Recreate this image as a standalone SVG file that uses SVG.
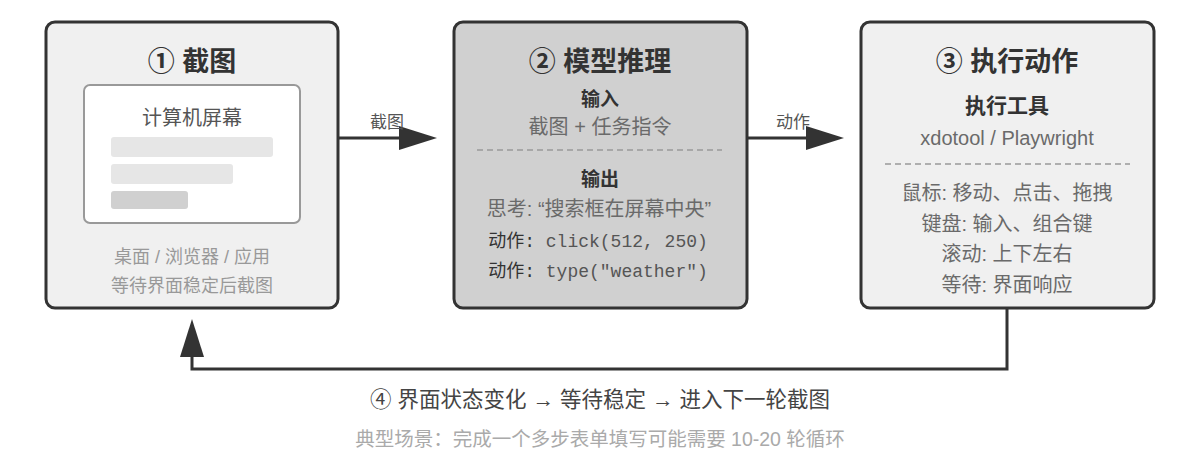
<svg xmlns="http://www.w3.org/2000/svg" width="1200" height="462" viewBox="0 0 1200 462">
<style>
text{font-family:"Liberation Sans","Noto Sans CJK SC",sans-serif;text-anchor:middle}
.box{stroke:#333;stroke-width:3}
.title{font-size:27px;font-weight:bold;fill:#333}
.sub{font-size:19px;font-weight:bold;fill:#333}
.body{font-size:20px;fill:#6a6a6a}
.muted{font-size:18px;fill:#999}
.code{font-family:"Liberation Mono","Noto Sans CJK SC",monospace;font-size:18px;fill:#555}
.dash{stroke:#999;stroke-width:1.5;stroke-dasharray:6 4}
.conn{stroke:#333;stroke-width:3;fill:none}
.lbl{font-size:17px;fill:#555}
</style>
<defs>
<marker id="ah" viewBox="0 0 38 24" refX="0" refY="12" markerWidth="38" markerHeight="24" markerUnits="userSpaceOnUse" orient="auto">
<path d="M0,0 L38,12 L0,24 Z" fill="#333"/>
</marker>
</defs>
<g id="node-screenshot">
<rect class="box" x="46" y="22" width="292" height="286" rx="9" fill="#f0f0f0"/>
<text class="title" x="192" y="71">① 截图</text>
<rect x="84" y="85" width="216" height="138" rx="6" fill="#fff" stroke="#999" stroke-width="2"/>
<text x="192" y="125" style="font-size:20px;fill:#555">计算机屏幕</text>
<rect x="111" y="137" width="162" height="20" rx="3" fill="#e6e6e6"/>
<rect x="111" y="164" width="122" height="20" rx="3" fill="#e6e6e6"/>
<rect x="111" y="191" width="77" height="18" rx="3" fill="#d0d0d0"/>
<text class="muted" x="192" y="263">桌面 / 浏览器 / 应用</text>
<text class="muted" x="192" y="292">等待界面稳定后截图</text>
</g>
<g id="node-inference">
<rect class="box" x="454" y="22" width="293" height="286" rx="9" fill="#d0d0d0"/>
<text class="title" x="600" y="71">② 模型推理</text>
<text class="sub" x="600" y="106">输入</text>
<text class="body" x="600" y="134">截图 + 任务指令</text>
<line class="dash" x1="477" y1="150" x2="722" y2="150"/>
<text class="sub" x="600" y="186">输出</text>
<text class="body" x="599" y="216">思考: “搜索框在屏幕中央”</text>
<text class="code" x="598" y="247"><tspan style="fill:#333">动作: </tspan>click(512, 250)</text>
<text class="code" x="598" y="277"><tspan style="fill:#333">动作: </tspan>type("weather")</text>
</g>
<g id="node-execute">
<rect class="box" x="861" y="22" width="293" height="286" rx="9" fill="#f0f0f0"/>
<text class="title" x="1007" y="71">③ 执行动作</text>
<text class="sub" x="1007" y="113" style="font-size:21px">执行工具</text>
<text class="body" x="1007" y="145">xdotool / Playwright</text>
<line class="dash" x1="885" y1="164" x2="1130" y2="164"/>
<text class="body" x="1007" y="200">鼠标: 移动、点击、拖拽</text>
<text class="body" x="1007" y="231">键盘: 输入、组合键</text>
<text class="body" x="1007" y="261">滚动: 上下左右</text>
<text class="body" x="1007" y="292">等待: 界面响应</text>
</g>
<g id="connectors">
<line class="conn" x1="339" y1="138" x2="399" y2="138" marker-end="url(#ah)"/>
<text class="lbl" x="387" y="128">截图</text>
<line class="conn" x1="748" y1="138" x2="806" y2="138" marker-end="url(#ah)"/>
<text class="lbl" x="793" y="128">动作</text>
<path class="conn" d="M1007,309 V369 H192 V357" marker-end="url(#ah)"/>
</g>
<g id="notes">
<text x="600" y="407" style="font-size:21.5px;fill:#444">④ 界面状态变化 → 等待稳定 → 进入下一轮截图</text>
<text x="600" y="446" style="font-size:19.5px;fill:#aaa">典型场景：完成一个多步表单填写可能需要 10-20 轮循环</text>
</g>
</svg>
